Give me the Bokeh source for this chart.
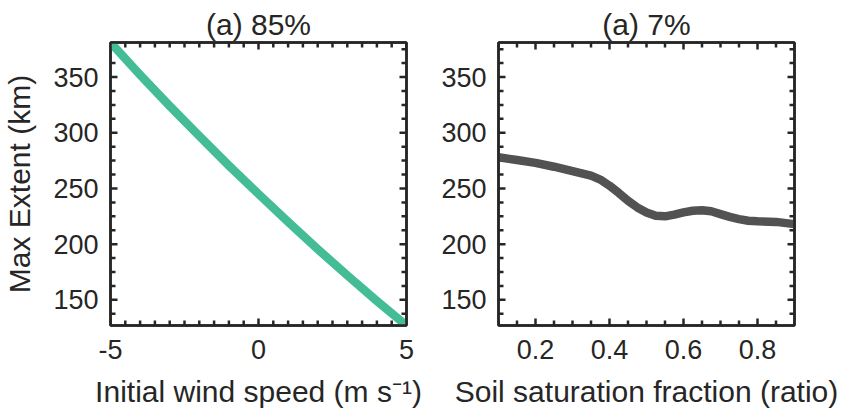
import math
from bokeh.plotting import figure
from bokeh.models import LinearAxis, FixedTicker, Range1d, NumeralTickFormatter
from bokeh.layouts import row
from bokeh.embed import file_html
from bokeh.resources import INLINE

# ---- data ----
wind_speed = [-5, -4, -3, -2, -1, 0, 1, 2, 3, 4, 5]
extent_wind = [381, 352, 324, 297, 270.5, 245, 220, 195.5, 172, 149, 127]

soil_sat = [0.10, 0.15, 0.20, 0.25, 0.30, 0.35, 0.375, 0.40, 0.425, 0.45,
            0.475, 0.50, 0.525, 0.55, 0.575, 0.60, 0.625, 0.65, 0.675,
            0.70, 0.725, 0.75, 0.775, 0.80, 0.85, 0.90]
extent_soil = [278, 275.5, 273, 269.5, 265.5, 261.5, 258, 252.5, 246, 239,
               233, 228.5, 225.5, 225, 226.5, 228.5, 230, 230.5, 229.5,
               227, 224.5, 222.5, 221, 220.5, 220, 218]

titles = ["(a) 85%", "(a) 7%"]
x_labels = ["Initial wind speed (m s\u207b\u00b9)", "Soil saturation fraction (ratio)"]
y_label = "Max Extent (km)"
y_limits = (127, 381)
x_limits = [(-5, 5), (0.1, 0.9)]
x_formats = ["0", "0.0"]

# tick values
y_major = [150, 200, 250, 300, 350]
y_minor_step = 12.5
x_major = [[-5, 0, 5], [0.2, 0.4, 0.6, 0.8]]
x_minor_step = [0.5, 0.05]

TEXT = "#262626"
TICK = "#262626"
FONT = "Liberation Sans"
GREEN = "#44BD97"
GRAY = "#525252"
FRAME_W = 296
FRAME_H = 283


def minor_values(lo, hi, step, majors):
    vals = []
    k = math.ceil(lo / step - 1e-9)
    while k * step <= hi + 1e-9:
        v = round(k * step, 6)
        if all(abs(v - m) > 1e-9 for m in majors):
            vals.append(v)
        k += 1
    return vals


def style_axis(ax, ticks, show_labels, label_standoff=12, fmt="0"):
    ax.ticker = FixedTicker(ticks=ticks)
    ax.axis_line_color = TEXT
    ax.axis_line_width = 2.5
    ax.major_tick_in = 0
    ax.major_tick_out = 0
    ax.minor_tick_in = 0
    ax.minor_tick_out = 0
    ax.formatter = NumeralTickFormatter(format=fmt)
    if show_labels:
        ax.major_label_text_font = FONT
        ax.major_label_text_font_size = "27px"
        ax.major_label_text_color = TEXT
        ax.major_label_standoff = label_standoff
    else:
        ax.major_label_text_font_size = "1px"
        ax.major_label_text_color = None
        ax.major_label_standoff = 0


def add_ticks(p, xlim, xmaj, xmin_vals, ymaj, ymin_vals):
    # inward ticks on all four sides of the box
    dx = (xlim[1] - xlim[0]) / FRAME_W
    dy = (y_limits[1] - y_limits[0]) / FRAME_H
    for vals, length in ((xmaj, 7), (xmin_vals, 5)):
        for y_edge, sign in ((y_limits[0], 1), (y_limits[1], -1)):
            p.segment(x0=vals, y0=[y_edge] * len(vals),
                      x1=vals, y1=[y_edge + sign * length * dy] * len(vals),
                      line_color=TICK, line_width=2.5)
    for vals, length in ((ymaj, 7), (ymin_vals, 5)):
        for x_edge, sign in ((xlim[0], 1), (xlim[1], -1)):
            p.segment(x0=[x_edge] * len(vals), y0=vals,
                      x1=[x_edge + sign * length * dx] * len(vals), y1=vals,
                      line_color=TICK, line_width=2.5)


def make_panel(x, y, idx, color, ylabel, bl, br):
    xlim = x_limits[idx]
    fmt = x_formats[idx]
    p = figure(x_range=Range1d(*xlim), y_range=Range1d(*y_limits),
               frame_width=FRAME_W, frame_height=FRAME_H,
               min_border_left=bl, min_border_right=br,
               min_border_top=42, min_border_bottom=88,
               output_backend="svg", toolbar_location=None)
    p.outline_line_color = TEXT
    p.outline_line_width = 2.5
    p.xgrid.visible = False
    p.ygrid.visible = False

    bottom = p.xaxis[0]
    left = p.yaxis[0]
    style_axis(bottom, x_major[idx], True, 14, fmt)
    style_axis(left, y_major, True, 12, "0")
    top = LinearAxis()
    right = LinearAxis()
    style_axis(top, x_major[idx], False, fmt=fmt)
    style_axis(right, y_major, False)
    p.add_layout(top, "above")
    p.add_layout(right, "right")

    bottom.axis_label = x_labels[idx]
    bottom.axis_label_text_font = FONT
    bottom.axis_label_text_font_size = "30px"
    bottom.axis_label_text_font_style = "normal"
    bottom.axis_label_text_color = TEXT
    bottom.axis_label_standoff = 13
    if ylabel:
        left.axis_label = ylabel
        left.axis_label_text_font = FONT
        left.axis_label_text_font_size = "30px"
        left.axis_label_text_font_style = "normal"
        left.axis_label_text_color = TEXT
        left.axis_label_standoff = 14

    p.title.text = titles[idx]
    p.title.align = "center"
    p.title.text_font = FONT
    p.title.text_font_size = "30px"
    p.title.text_font_style = "normal"
    p.title.text_color = TEXT
    p.title.standoff = 3

    xmin_vals = minor_values(xlim[0], xlim[1], x_minor_step[idx], x_major[idx])
    ymin_vals = minor_values(y_limits[0], y_limits[1], y_minor_step, y_major)
    add_ticks(p, xlim, x_major[idx], xmin_vals, y_major, ymin_vals)

    p.line(x, y, line_color=color, line_width=8.5, line_cap="butt", line_join="round")
    return p


p1 = make_panel(wind_speed, extent_wind, 0, GREEN, y_label, 107, 20)
p2 = make_panel(soil_sat, extent_soil, 1, GRAY, None, 72, 50)

layout = row(p1, p2)
open("out.html", "w").write(file_html(layout, INLINE))
